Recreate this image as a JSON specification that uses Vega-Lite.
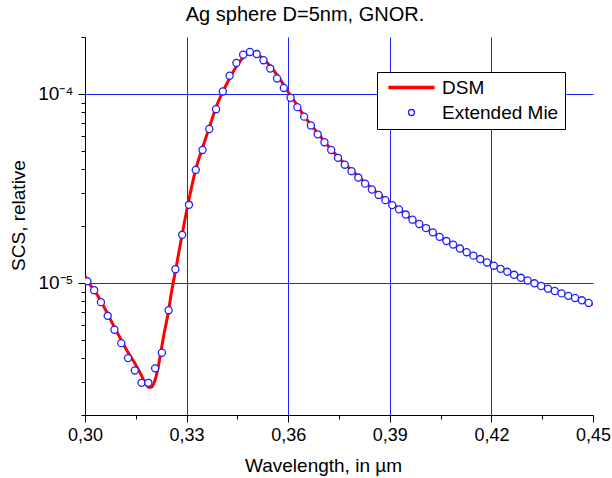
{
  "$schema": "https://vega.github.io/schema/vega-lite/v6.json",
  "width": 508,
  "height": 378,
  "autosize": {"type": "none"},
  "padding": {"left": 85, "top": 37, "right": 19, "bottom": 63},
  "background": "white",
  "title": {"text": "Ag sphere D=5nm, GNOR.", "font": "Liberation Sans", "fontSize": 20, "fontWeight": "normal", "color": "black", "anchor": "middle", "frame": "group", "dx": -34, "offset": 12},
  "config": {"view": {"stroke": null}, "font": "Liberation Sans"},
  "resolve": {"axis": {"x": "independent", "y": "independent"}},
  "datasets": {
    "dsm": [
      {"w": 0.3000, "v": 1.088e-5}, {"w": 0.30148, "v": 9.81e-6}, {"w": 0.30295, "v": 9.01e-6}, {"w": 0.30443, "v": 8.17e-6},
      {"w": 0.30649, "v": 6.97e-6}, {"w": 0.30856, "v": 5.88e-6}, {"w": 0.31062, "v": 5.02e-6}, {"w": 0.31269, "v": 4.29e-6},
      {"w": 0.31475, "v": 3.75e-6}, {"w": 0.31652, "v": 3.28e-6}, {"w": 0.318, "v": 2.90e-6}, {"w": 0.31888, "v": 2.80e-6},
      {"w": 0.31977, "v": 2.82e-6}, {"w": 0.32065, "v": 3.05e-6}, {"w": 0.32154, "v": 3.53e-6}, {"w": 0.32243, "v": 4.34e-6},
      {"w": 0.32331, "v": 5.34e-6}, {"w": 0.32449, "v": 6.81e-6}, {"w": 0.32567, "v": 9.23e-6}, {"w": 0.32685, "v": 1.191e-5},
      {"w": 0.32862, "v": 1.78e-5}, {"w": 0.33069, "v": 2.76e-5}, {"w": 0.33275, "v": 4.02e-5}, {"w": 0.33482, "v": 5.26e-5},
      {"w": 0.33688, "v": 6.79e-5}, {"w": 0.33865, "v": 8.45e-5}, {"w": 0.34072, "v": 1.027e-4}, {"w": 0.34279, "v": 1.218e-4},
      {"w": 0.34485, "v": 1.409e-4}, {"w": 0.34662, "v": 1.554e-4}, {"w": 0.34869, "v": 1.641e-4}, {"w": 0.35046, "v": 1.631e-4},
      {"w": 0.35252, "v": 1.535e-4}, {"w": 0.35459, "v": 1.409e-4}, {"w": 0.35665, "v": 1.263e-4}, {"w": 0.35872, "v": 1.112e-4},
      {"w": 0.36049, "v": 9.90e-5}, {"w": 0.36256, "v": 8.77e-5}, {"w": 0.36462, "v": 7.67e-5}, {"w": 0.36669, "v": 6.88e-5},
      {"w": 0.36875, "v": 6.19e-5}, {"w": 0.37061, "v": 5.62e-5}, {"w": 0.37259, "v": 5.11e-5}, {"w": 0.37465, "v": 4.65e-5},
      {"w": 0.37663, "v": 4.28e-5}, {"w": 0.3787, "v": 3.95e-5}, {"w": 0.38076, "v": 3.66e-5}, {"w": 0.38271, "v": 3.39e-5},
      {"w": 0.38477, "v": 3.15e-5}, {"w": 0.38675, "v": 2.95e-5}, {"w": 0.38882, "v": 2.77e-5}, {"w": 0.39079, "v": 2.61e-5},
      {"w": 0.39274, "v": 2.47e-5}, {"w": 0.3947, "v": 2.30e-5}, {"w": 0.3967, "v": 2.16e-5}, {"w": 0.3987, "v": 2.05e-5},
      {"w": 0.4007, "v": 1.95e-5}, {"w": 0.4027, "v": 1.851e-5}, {"w": 0.4047, "v": 1.752e-5}, {"w": 0.4067, "v": 1.665e-5},
      {"w": 0.4087, "v": 1.594e-5}, {"w": 0.4107, "v": 1.52e-5}, {"w": 0.4127, "v": 1.453e-5}, {"w": 0.4147, "v": 1.394e-5},
      {"w": 0.4167, "v": 1.337e-5}, {"w": 0.4187, "v": 1.283e-5}, {"w": 0.4207, "v": 1.233e-5}, {"w": 0.4227, "v": 1.187e-5},
      {"w": 0.4247, "v": 1.145e-5}, {"w": 0.4267, "v": 1.104e-5}, {"w": 0.4287, "v": 1.064e-5}, {"w": 0.4307, "v": 1.03e-5},
      {"w": 0.4327, "v": 9.95e-6}, {"w": 0.4347, "v": 9.63e-6}, {"w": 0.4367, "v": 9.32e-6}, {"w": 0.4387, "v": 9.06e-6},
      {"w": 0.4407, "v": 8.80e-6}, {"w": 0.4427, "v": 8.54e-6}, {"w": 0.4447, "v": 8.32e-6}, {"w": 0.4467, "v": 8.09e-6},
      {"w": 0.4487, "v": 7.83e-6}, {"w": 0.45, "v": 7.70e-6}
    ],
    "mie": [
      {"w": 0.3007, "v": 1.021e-5}, {"w": 0.3027, "v": 9.15e-6}, {"w": 0.3047, "v": 7.91e-6}, {"w": 0.3067, "v": 6.70e-6},
      {"w": 0.3087, "v": 5.65e-6}, {"w": 0.3107, "v": 4.80e-6}, {"w": 0.3127, "v": 4.00e-6}, {"w": 0.3147, "v": 3.44e-6},
      {"w": 0.3167, "v": 2.96e-6}, {"w": 0.3187, "v": 2.96e-6}, {"w": 0.3207, "v": 3.53e-6}, {"w": 0.3227, "v": 4.27e-6},
      {"w": 0.3247, "v": 7.17e-6}, {"w": 0.3267, "v": 1.181e-5}, {"w": 0.3287, "v": 1.796e-5}, {"w": 0.3307, "v": 2.59e-5},
      {"w": 0.3327, "v": 3.96e-5}, {"w": 0.3347, "v": 5.05e-5}, {"w": 0.3367, "v": 6.52e-5}, {"w": 0.3387, "v": 8.30e-5},
      {"w": 0.3407, "v": 1.03e-4}, {"w": 0.3427, "v": 1.248e-4}, {"w": 0.3447, "v": 1.458e-4}, {"w": 0.3467, "v": 1.612e-4},
      {"w": 0.3487, "v": 1.667e-4}, {"w": 0.3507, "v": 1.625e-4}, {"w": 0.3527, "v": 1.507e-4}, {"w": 0.3547, "v": 1.362e-4},
      {"w": 0.3567, "v": 1.207e-4}, {"w": 0.3587, "v": 1.075e-4}, {"w": 0.3607, "v": 9.54e-5}, {"w": 0.3627, "v": 8.51e-5},
      {"w": 0.3647, "v": 7.58e-5}, {"w": 0.3667, "v": 6.81e-5}, {"w": 0.3687, "v": 6.11e-5}, {"w": 0.3707, "v": 5.55e-5},
      {"w": 0.3727, "v": 5.05e-5}, {"w": 0.3747, "v": 4.59e-5}, {"w": 0.3767, "v": 4.22e-5}, {"w": 0.3787, "v": 3.90e-5},
      {"w": 0.3807, "v": 3.61e-5}, {"w": 0.3827, "v": 3.35e-5}, {"w": 0.3847, "v": 3.12e-5}, {"w": 0.3867, "v": 2.92e-5},
      {"w": 0.3887, "v": 2.74e-5}, {"w": 0.3907, "v": 2.58e-5}, {"w": 0.3927, "v": 2.45e-5}, {"w": 0.3947, "v": 2.30e-5},
      {"w": 0.3967, "v": 2.16e-5}, {"w": 0.3987, "v": 2.05e-5}, {"w": 0.4007, "v": 1.95e-5}, {"w": 0.4027, "v": 1.851e-5},
      {"w": 0.4047, "v": 1.752e-5}, {"w": 0.4067, "v": 1.665e-5}, {"w": 0.4087, "v": 1.594e-5}, {"w": 0.4107, "v": 1.52e-5},
      {"w": 0.4127, "v": 1.453e-5}, {"w": 0.4147, "v": 1.394e-5}, {"w": 0.4167, "v": 1.337e-5}, {"w": 0.4187, "v": 1.283e-5},
      {"w": 0.4207, "v": 1.233e-5}, {"w": 0.4227, "v": 1.187e-5}, {"w": 0.4247, "v": 1.145e-5}, {"w": 0.4267, "v": 1.104e-5},
      {"w": 0.4287, "v": 1.064e-5}, {"w": 0.4307, "v": 1.03e-5}, {"w": 0.4327, "v": 9.95e-6}, {"w": 0.4347, "v": 9.63e-6},
      {"w": 0.4367, "v": 9.32e-6}, {"w": 0.4387, "v": 9.06e-6}, {"w": 0.4407, "v": 8.80e-6}, {"w": 0.4427, "v": 8.54e-6},
      {"w": 0.4447, "v": 8.32e-6}, {"w": 0.4467, "v": 8.09e-6}, {"w": 0.4487, "v": 7.83e-6}
    ]
  },
  "layer": [
    {
      "data": {"name": "dsm"},
      "mark": {"type": "line", "strokeWidth": 3, "interpolate": "monotone", "clip": true},
      "encoding": {
        "x": {
          "field": "w", "type": "quantitative",
          "scale": {"domain": [0.30, 0.45], "nice": false, "zero": false},
          "axis": {
            "orient": "bottom",
            "values": [0.30, 0.33, 0.36, 0.39, 0.42, 0.45],
            "labelExpr": "replace(format(datum.value, '.2f'), '.', ',')",
            "tickSize": 7, "grid": false,
            "domainColor": "black", "tickColor": "black", "domainWidth": 1, "tickWidth": 1,
            "labelFont": "Liberation Sans", "labelFontSize": 18, "labelColor": "black", "labelPadding": 4,
            "labelFlush": false, "labelOverlap": false, "labelBound": false,
            "title": "Wavelength, in µm", "titleFont": "Liberation Sans", "titleFontSize": 19, "titleFontWeight": "normal", "titleColor": "black",
            "titleX": 238, "titleY": 50, "titleAlign": "center", "titleBaseline": "middle"
          }
        },
        "y": {
          "field": "v", "type": "quantitative",
          "scale": {"type": "log", "domain": [2e-6, 2e-4], "nice": false},
          "axis": {
            "orient": "left",
            "values": [1e-5, 1e-4],
            "labelExpr": "datum.value < 5e-5 ? '10⁻⁵' : '10⁻⁴'",
            "tickSize": 7,
            "grid": true, "gridColor": "#2020ff", "gridWidth": 1,
            "domainColor": "black", "tickColor": "black", "domainWidth": 1, "tickWidth": 1,
            "labelFont": "Liberation Sans", "labelFontSize": 19, "labelColor": "black", "labelPadding": 5,
            "labelFlush": false, "labelOverlap": false, "labelBound": false,
            "title": "SCS, relative", "titleFont": "Liberation Sans", "titleFontSize": 19, "titleFontWeight": "normal", "titleColor": "black",
            "titleX": -67, "titleY": 178, "titleAngle": -90, "titleAlign": "center", "titleBaseline": "middle"
          }
        },
        "stroke": {
          "datum": "DSM", "type": "nominal",
          "scale": {"domain": ["DSM", "Extended Mie"], "range": ["#ff0000", "#2020ff"]},
          "legend": {
            "title": null, "orient": "none", "legendX": 292, "legendY": 35,
            "fillColor": "white", "strokeColor": "black", "padding": 6,
            "labelFont": "Liberation Sans", "labelFontSize": 19, "labelColor": "black",
            "symbolSize": 36, "symbolStrokeWidth": 1.3, "symbolOffset": 19, "labelOffset": 21, "rowPadding": 5,
            "symbolFillColor": "white"
          }
        }
      }
    },
    {
      "data": {"name": "mie"},
      "mark": {"type": "point", "shape": "circle", "filled": true, "fill": "white", "size": 50, "strokeWidth": 1.3, "opacity": 1, "clip": true},
      "encoding": {
        "x": {
          "field": "w", "type": "quantitative",
          "axis": {
            "orient": "bottom",
            "values": [0.33, 0.36, 0.39, 0.42],
            "labels": false, "domain": false, "ticks": false, "title": null,
            "grid": true, "gridColor": "#2020ff", "gridWidth": 1
          }
        },
        "y": {
          "field": "v", "type": "quantitative",
          "axis": {
            "orient": "left",
            "values": [2e-6, 3e-6, 4e-6, 5e-6, 6e-6, 7e-6, 8e-6, 9e-6, 2e-5, 3e-5, 4e-5, 5e-5, 6e-5, 7e-5, 8e-5, 9e-5, 2e-4],
            "labels": false, "domain": false, "grid": false, "title": null,
            "tickSize": 4, "tickColor": "black", "tickWidth": 1
          }
        },
        "stroke": {
          "datum": "Extended Mie", "type": "nominal",
          "scale": {"domain": ["DSM", "Extended Mie"], "range": ["#ff0000", "#2020ff"]}
        },
        "shape": {
          "datum": "Extended Mie", "type": "nominal",
          "scale": {"domain": ["DSM", "Extended Mie"], "range": ["M-7.7,-0.33H7.7M-7.7,0H7.7M-7.7,0.33H7.7", "circle"]}
        }
      }
    },
    {
      "data": {"values": []},
      "mark": {"type": "point", "opacity": 0},
      "encoding": {
        "x": {
          "field": "w", "type": "quantitative",
          "axis": {
            "orient": "bottom",
            "values": [0.315, 0.345, 0.375, 0.405, 0.435],
            "labels": false, "domain": false, "grid": false, "title": null,
            "tickSize": 4, "tickColor": "black", "tickWidth": 1
          }
        },
        "y": {"field": "v", "type": "quantitative", "axis": null}
      }
    }
  ]
}
